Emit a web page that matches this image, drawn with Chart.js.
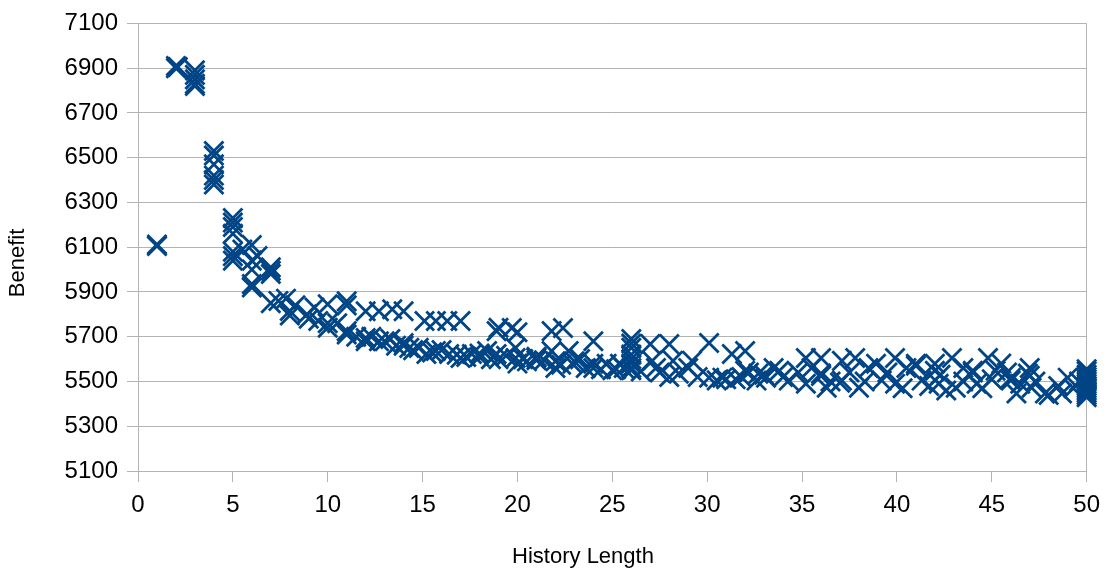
<!DOCTYPE html>
<html>
<head>
<meta charset="utf-8">
<script src="https://cdn.jsdelivr.net/npm/chart.js@4/dist/chart.umd.min.js"></script>
<style>
  html, body { margin: 0; padding: 0; background: #fff; }
  #wrap { width: 1109px; height: 574px; }
</style>
</head>
<body>
<div id="wrap"><canvas id="benefit-chart" width="1109" height="574"></canvas></div>
<script>
// History length (x) and benefit (y) per run
const historyLength = [
  1, 1,
  2, 2, 2.1,
  3, 3, 3, 3, 3,
  4, 4, 4, 4, 4, 4,
  5, 5, 5, 5, 5, 5, 5,
  5.5, 6, 6, 6, 6, 6, 6.3,
  7, 7, 7, 7, 7.4,
  7.8, 8, 8, 8.3,
  8.9, 9, 9.3, 9.5,
  10, 10, 10, 10.5,
  11, 11, 11, 11, 11.5,
  12, 12, 12, 12.3,
  12.7, 12.7, 13, 13.3, 13.4, 13.6, 14, 14, 14, 14.3, 14.5,
  14.8, 15.1, 15.2, 15.5, 15.7, 15.7, 16, 16.3, 16.4, 16.8, 17, 17, 17.3, 17.6, 18, 18,
  18.4, 18.6, 18.9, 18.9, 19, 19, 19.4,
  19.7, 19.9, 19.9, 20, 20, 20.3, 20.5, 21, 21, 21, 21.4, 21.8, 21.8, 22, 22,
  22.3, 22.4, 22.7, 22.9, 23, 23.3, 23.6, 24, 24, 24, 24.4, 24.7, 25, 25.2, 25.4, 25.6,
  26, 26, 26, 26, 26, 26, 26, 26, 26.5,
  27, 27.1, 27.3, 27.5, 28, 28, 28.2, 28.5, 29, 29.2, 29.5, 30.1, 30.1, 30.5, 30.8, 31,
  31.3, 31.5, 31.8, 32, 32, 32.2, 32.6,
  32.7, 33, 33.1, 33.5, 33.8, 34, 34.3, 34.8, 35.2, 35.2, 35.5, 36, 36, 36, 36.3, 36.5,
  37.1, 37.1, 37, 37.5, 37.8, 38, 38.3, 38.5, 38.9,
  39.2, 39.5, 39.9, 39.9, 40.3, 40.5, 41, 41, 41.3, 41.7, 42, 42.3, 42.6,
  42, 42.2, 42.9, 43.1, 43.5, 43.5, 44, 44, 44.2, 44.5, 44.8, 45, 45.2, 45.5, 45.8, 46,
  46, 46.3, 46.5, 46.9, 47, 47, 47.1, 47.3, 47.8, 48,
  48.5, 48.7, 49, 49.3, 49.6,
  50, 50, 50, 50, 50, 50, 50, 50, 50, 50, 50, 50, 50
];
const benefit = [
  6105, 6112,
  6900, 6910, 6905,
  6890, 6870, 6850, 6830, 6820,
  6530, 6510, 6470, 6420, 6400, 6380,
  6230, 6210, 6190, 6160, 6080, 6060, 6040,
  6090, 6110, 6040, 6000, 5935, 5920, 6060,
  6010, 5995, 5980, 5850, 5860,
  5870, 5815, 5795, 5840,
  5800, 5780, 5830, 5770,
  5845, 5740, 5760, 5760,
  5858, 5840, 5725, 5710, 5700,
  5814, 5694, 5680, 5700,
  5814, 5680, 5680, 5690, 5823, 5660, 5814, 5672, 5660, 5650, 5640,
  5650, 5770, 5623, 5630, 5770, 5636, 5640, 5770, 5623, 5620, 5770, 5605, 5610, 5623, 5610, 5625,
  5636, 5600, 5725, 5623, 5740, 5600, 5615,
  5739, 5650, 5605, 5720, 5580, 5600, 5590, 5605, 5595, 5610, 5595, 5725, 5636, 5560, 5590,
  5575, 5739, 5636, 5579, 5590, 5600, 5560, 5680, 5579, 5560, 5555, 5579, 5550, 5555, 5579, 5560,
  5690, 5670, 5650, 5620, 5600, 5580, 5560, 5550, 5545,
  5667, 5592, 5560, 5540, 5667, 5520, 5592, 5535, 5560, 5592, 5520, 5672, 5517, 5505, 5517, 5510,
  5623, 5510, 5520, 5636, 5548, 5540, 5504,
  5535, 5530, 5517, 5560, 5548, 5520, 5504, 5540, 5605, 5490, 5560, 5605, 5535, 5525, 5472, 5500,
  5592, 5504, 5495, 5540, 5605, 5472, 5500, 5560, 5579,
  5504, 5540, 5605, 5490, 5470, 5560, 5579, 5570, 5504, 5480, 5548, 5530, 5460,
  5579, 5490, 5605, 5472, 5500, 5560, 5548, 5540, 5490, 5470, 5605, 5510, 5548, 5580, 5540, 5504,
  5515, 5446, 5490, 5535, 5525, 5560, 5472, 5500, 5446, 5440,
  5480, 5446, 5517, 5470, 5500,
  5555, 5545, 5530, 5520, 5510, 5500, 5490, 5480, 5470, 5460, 5450, 5440, 5430
];
const xTicks = [0, 5, 10, 15, 20, 25, 30, 35, 40, 45, 50];
const yTicks = [5100, 5300, 5500, 5700, 5900, 6100, 6300, 6500, 6700, 6900, 7100];

const gridGray = "#b3b3b3";
const markColor = "#004586";

// axis titles drawn where the original puts them
const axisTitles = {
  id: "axisTitles",
  afterDraw(chart) {
    const c = chart.ctx;
    c.save();
    c.fillStyle = "#000";
    c.font = "22px 'Liberation Sans', Arial, sans-serif";
    c.textAlign = "center";
    c.textBaseline = "middle";
    c.fillText("History Length", 583, 557);
    c.translate(18, 263);
    c.rotate(-Math.PI / 2);
    c.fillText("Benefit", 0, 0);
    c.restore();
  },
};

const points = historyLength.map((x, i) => ({ x: x, y: benefit[i] }));

new Chart(document.getElementById("benefit-chart"), {
  type: "scatter",
  data: {
    datasets: [
      {
        label: "Benefit",
        data: points,
        pointStyle: "crossRot",
        pointRadius: 13.5,
        pointHoverRadius: 13.5,
        pointBorderWidth: 2.8,
        pointBorderColor: markColor,
        pointBackgroundColor: markColor,
        clip: false,
      },
    ],
  },
  options: {
    responsive: false,
    animation: false,
    layout: { padding: { top: 20, right: 18, bottom: 0, left: 0 } },
    plugins: {
      legend: { display: false },
      tooltip: { enabled: false },
    },
    scales: {
      x: {
        type: "linear",
        min: 0,
        max: 50,
        afterBuildTicks: (scale) => {
          scale.ticks = xTicks.map((v) => ({ value: v }));
        },
        afterFit: (scale) => {
          scale.height = 103;
        },
        grid: {
          color: (ctx) =>
            ctx.tick && (ctx.tick.value === 0 || ctx.tick.value === 50)
              ? gridGray
              : "rgba(0,0,0,0)",
          tickColor: gridGray,
          tickLength: 11,
          lineWidth: 1,
        },
        border: { color: gridGray },
        ticks: {
          color: "#000",
          padding: 9,
          maxRotation: 0,
          callback: (v) => String(v),
          font: { family: "'Liberation Sans', Arial, sans-serif", size: 24 },
        },
      },
      y: {
        type: "linear",
        min: 5100,
        max: 7100,
        afterBuildTicks: (scale) => {
          scale.ticks = yTicks.map((v) => ({ value: v }));
        },
        afterFit: (scale) => {
          scale.width = 138;
        },
        grid: {
          color: gridGray,
          tickColor: gridGray,
          tickLength: 11,
          lineWidth: 1,
        },
        border: { color: gridGray },
        ticks: {
          color: "#000",
          padding: 9,
          callback: (v) => String(v),
          font: { family: "'Liberation Sans', Arial, sans-serif", size: 24 },
        },
      },
    },
  },
  plugins: [axisTitles],
});
</script>
</body>
</html>
